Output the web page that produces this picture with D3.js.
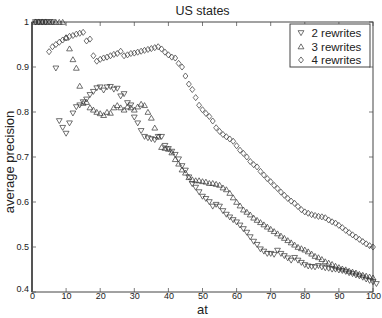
<!DOCTYPE html>
<html><head><meta charset="utf-8">
<script src="https://cdn.jsdelivr.net/npm/d3@7"></script>
<style>body{margin:0;background:#fff}svg{display:block}text{font-family:"Liberation Sans",Arial,sans-serif}</style>
</head><body><svg id="c" width="382" height="318"></svg>
<script>
const xTicks = [0,10,20,30,40,50,60,70,80,90,100];
const yTicks = [0.4,0.5,0.6,0.7,0.8,0.9,1];
const seriesNames = ["2 rewrites","3 rewrites","4 rewrites"];
const rew2 = [1,1,1,1,1,1,0.897,0.780,0.765,0.752,0.775,0.797,0.811,0.815,0.822,0.828,0.838,0.845,0.853,0.855,0.848,0.855,0.856,0.85,0.852,0.835,0.84,0.82,0.815,0.788,0.775,0.758,0.745,0.742,0.74,0.738,0.745,0.745,0.725,0.718,0.712,0.705,0.695,0.68,0.67,
0.655,0.64,0.632,0.622,0.612,0.607,0.6,0.59,0.594,0.59,0.58,0.572,0.566,0.56,0.555,0.548,0.54,0.532,0.522,0.512,0.505,0.495,0.49,0.485,0.485,0.483,0.492,0.485,0.48,0.475,0.47,0.476,0.47,0.465,0.46,0.457,0.456,0.455,0.458,0.455,0.453,0.452,0.45,0.45,0.448,0.447,0.445,0.442,0.44,0.437,0.435,0.432,0.428,0.425,0.422,0.418];
const rew3 = [1,1,1,1,1,1,1,1,1,0.965,0.941,0.917,0.898,0.858,0.82,0.822,0.81,0.805,0.80,0.797,0.793,0.80,0.798,0.81,0.815,0.81,0.805,0.812,0.81,0.805,0.812,0.818,0.815,0.8,0.787,0.765,0.745,0.722,0.72,0.718,0.71,0.695,0.685,0.672,0.665,
0.655,0.65,0.648,0.648,0.646,0.645,0.642,0.642,0.64,0.638,0.632,0.628,0.62,0.61,0.6,0.592,0.583,0.578,0.572,0.565,0.56,0.555,0.55,0.545,0.54,0.535,0.53,0.525,0.52,0.515,0.51,0.505,0.5,0.497,0.494,0.49,0.485,0.48,0.477,0.473,0.468,0.465,0.462,0.458,0.455,0.452,0.45,0.447,0.445,0.443,0.44,0.438,0.436,0.434,0.432];
const rew4 = [1,1,1,1,0.934,0.945,0.95,0.955,0.96,0.965,0.968,0.97,0.973,0.975,0.977,0.958,0.962,0.925,0.913,0.917,0.92,0.922,0.925,0.928,0.93,0.935,0.925,0.927,0.93,0.931,0.933,0.935,0.937,0.939,0.941,0.943,0.945,0.94,0.933,0.927,0.922,0.92,0.908,0.9,0.88,0.862,0.85,0.832,0.815,0.805,
0.797,0.79,0.78,0.765,0.757,0.75,0.745,0.74,0.735,0.725,0.715,0.708,0.7,0.69,0.683,0.678,0.668,0.66,0.652,0.645,0.637,0.63,0.622,0.615,0.608,0.602,0.597,0.59,0.583,0.578,0.575,0.572,0.57,0.568,0.567,0.565,0.56,0.556,0.553,0.548,0.543,0.537,0.532,0.527,0.522,0.517,0.512,0.507,0.503,0.5];

const svg = d3.select("#c");
const L=32,R=373,T=22,B=292;
const x = d3.scaleLinear().domain([0,100]).range([L,R]);
const y = d3.scaleLinear().domain([0.4,1]).range([B,T]);
const ink="#222";

const gx = svg.append("g").attr("transform",`translate(0,${B})`).call(d3.axisBottom(x).tickValues(xTicks).tickSize(0).tickPadding(1));
const gy = svg.append("g").attr("transform",`translate(${L},0)`).call(d3.axisLeft(y).tickValues(yTicks).tickSize(0).tickPadding(3).tickFormat(d=>d===1?"1":d3.format(".1f")(d)));
[gx,gy].forEach(g=>{g.select(".domain").remove();g.selectAll("text").attr("font-size",9).attr("fill",ink);});
gy.selectAll(".tick text").filter(d=>d===0.4).attr("dy","-0.1em");
const tk=4;
svg.append("g").selectAll("line").data(xTicks).join("line").attr("x1",d=>x(d)).attr("x2",d=>x(d)).attr("y1",B).attr("y2",B-tk).attr("stroke",ink).attr("stroke-width",0.6);
svg.append("g").selectAll("line").data(xTicks).join("line").attr("x1",d=>x(d)).attr("x2",d=>x(d)).attr("y1",T).attr("y2",T+tk).attr("stroke",ink).attr("stroke-width",0.6);
svg.append("g").selectAll("line").data(yTicks).join("line").attr("x1",L).attr("x2",L+tk).attr("y1",d=>y(d)).attr("y2",d=>y(d)).attr("stroke",ink).attr("stroke-width",0.6);
svg.append("g").selectAll("line").data(yTicks).join("line").attr("x1",R).attr("x2",R-tk).attr("y1",d=>y(d)).attr("y2",d=>y(d)).attr("stroke",ink).attr("stroke-width",0.6);
svg.append("rect").attr("x",L).attr("y",T).attr("width",R-L).attr("height",B-T).attr("fill","none").attr("stroke","#444").attr("stroke-width",1);
svg.append("line").attr("x1",L).attr("x2",L).attr("y1",T).attr("y2",B).attr("stroke","#555").attr("stroke-width",2);

const s=2.9;
const down = `M${-s},${-s*0.8}L${s},${-s*0.8}L0,${s*0.9}Z`;
const up = `M${-s},${s*0.8}L${s},${s*0.8}L0,${-s*0.9}Z`;
const dia = `M0,${-s*1.05}L${s*0.85},0L0,${s*1.05}L${-s*0.85},0Z`;
const shapes=[down,up,dia];
[rew2,rew3,rew4].forEach((arr,i)=>{
  svg.append("g").selectAll("path").data(arr).join("path")
    .attr("d",shapes[i]).attr("transform",(d,j)=>`translate(${x(j+1)},${y(d)})`)
    .attr("fill","none").attr("stroke","#333").attr("stroke-width",0.7);
});

const lg = svg.append("g");
lg.append("rect").attr("x",290).attr("y",24).attr("width",80).attr("height",43).attr("fill","#fff").attr("stroke","#444").attr("stroke-width",1);
seriesNames.forEach((n,i)=>{
  const yy=33+i*13.5;
  lg.append("path").attr("d",shapes[i]).attr("transform",`translate(301,${yy})`).attr("fill","none").attr("stroke","#333").attr("stroke-width",0.7);
  lg.append("text").attr("x",311.5).attr("y",yy+4).attr("font-size",11.5).attr("fill",ink).text(n);
});

svg.append("text").attr("x",(L+R)/2).attr("y",15).attr("text-anchor","middle").attr("font-size",12.5).attr("fill",ink).text("US states");
svg.append("text").attr("x",(L+R)/2).attr("y",314).attr("text-anchor","middle").attr("font-size",13).attr("fill",ink).text("at");
svg.append("text").attr("transform",`translate(14,162) rotate(-90)`).attr("text-anchor","middle").attr("font-size",13).attr("fill",ink).text("average precision");
</script></body></html>
